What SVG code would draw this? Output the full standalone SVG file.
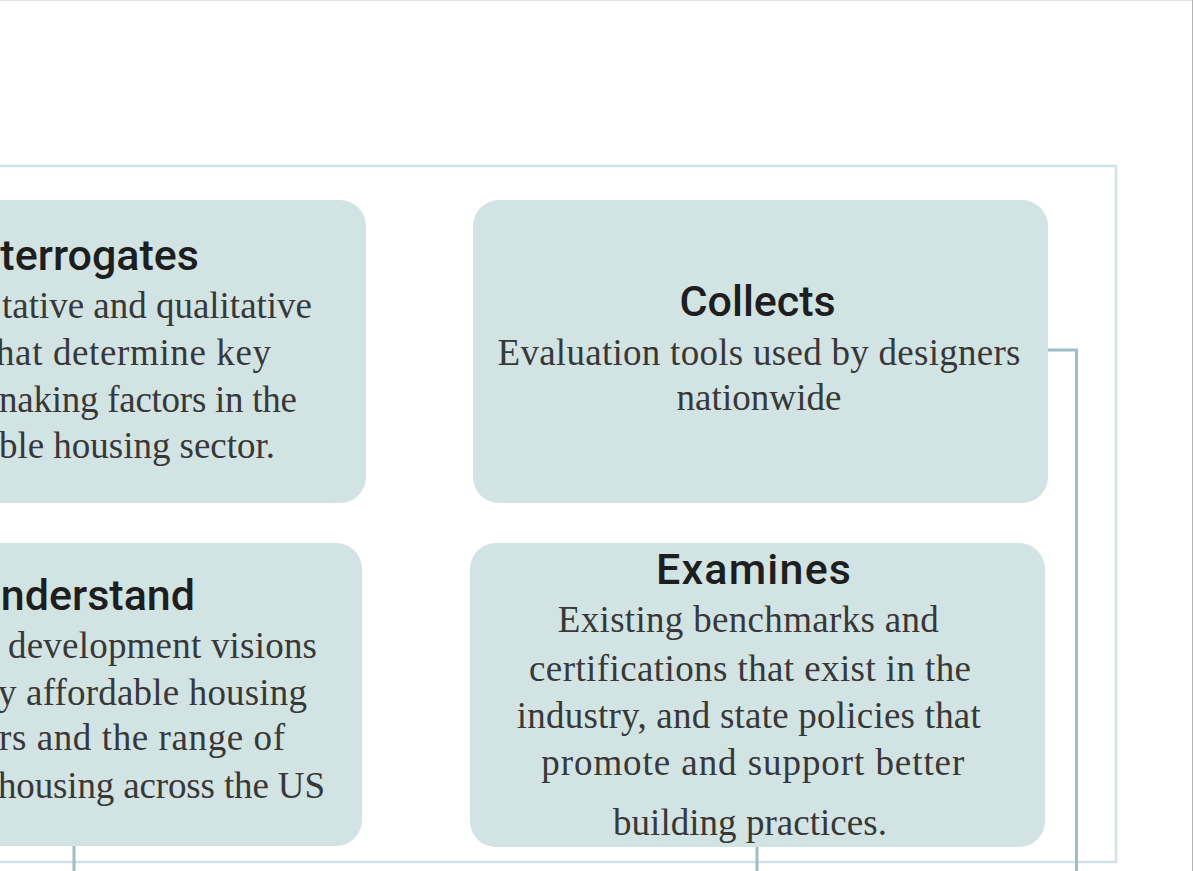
<svg xmlns="http://www.w3.org/2000/svg" width="1193" height="871" viewBox="0 0 1193 871">
<style>
.box{fill:#d2e3e4;}
.frame{fill:none;stroke:#d0e2e4;stroke-width:2.5;}
.conn{fill:none;stroke:#9fbdc4;stroke-width:3;}
.head{font-family:Roboto,"Noto Sans",sans-serif;font-weight:500;font-size:43px;fill:#1e1e1e;}
.body{font-family:"Liberation Serif","Times New Roman",serif;font-size:37px;fill:#383838;}
.c{text-anchor:middle;}
.e{text-anchor:end;}
</style>
<rect x="0" y="0" width="1193" height="871" fill="#ffffff"/>
<line x1="0" y1="0.5" x2="1193" y2="0.5" stroke="#e2e2e2" stroke-width="1"/>
<line x1="1192.5" y1="0" x2="1192.5" y2="871" stroke="#b3b3b3" stroke-width="1"/>
<rect class="frame" x="-100" y="166" width="1216" height="696"/>
<g id="interrogates">
<rect class="box" x="-209" y="200" width="575" height="303" rx="26"/>
<text class="head e" x="199" y="270">terrogates</text>
<text class="body e" x="312" y="318" textLength="310">tative and qualitative</text>
<text class="body e" x="271" y="365" textLength="275">hat determine key</text>
<text class="body e" x="297" y="412" textLength="298">naking factors in the</text>
<text class="body e" x="275" y="458" textLength="276">ble housing sector.</text>
</g>
<g id="collects">
<rect class="box" x="473" y="200" width="575" height="303" rx="26"/>
<text class="head c" x="757.6" y="316" textLength="156">Collects</text>
<text class="body c" x="759" y="365" textLength="523">Evaluation tools used by designers</text>
<text class="body c" x="759" y="410" textLength="165">nationwide</text>
</g>
<g id="understand">
<rect class="box" x="-213" y="543" width="575" height="303" rx="26"/>
<text class="head e" x="195" y="610">nderstand</text>
<text class="body e" x="317" y="658" textLength="309">development visions</text>
<text class="body e" x="307" y="705" textLength="309">y affordable housing</text>
<text class="body e" x="285" y="750" textLength="286">rs and the range of</text>
<text class="body e" x="325" y="798" textLength="327">housing across the US</text>
</g>
<g id="examines">
<rect class="box" x="470" y="543" width="575" height="304" rx="26"/>
<text class="head c" x="753.5" y="584" textLength="195">Examines</text>
<text class="body c" x="748.3" y="632" textLength="381">Existing benchmarks and</text>
<text class="body c" x="750" y="681" textLength="442">certifications that exist in the</text>
<text class="body c" x="748.8" y="728" textLength="464">industry, and state policies that</text>
<text class="body c" x="752.8" y="775" textLength="423">promote and support better</text>
<text class="body c" x="750" y="835" textLength="274">building practices.</text>
</g>
<g id="connectors">
<path class="conn" d="M1048 350 H1076.5 V871"/>
<path class="conn" d="M757 847 V871"/>
<path class="conn" d="M74 846 V871"/>
</g>
</svg>
